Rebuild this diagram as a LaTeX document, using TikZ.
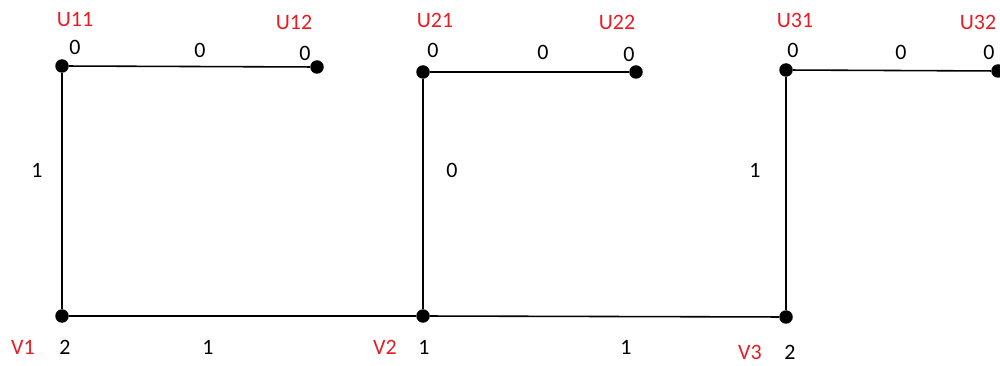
\documentclass[tikz,border=0pt]{standalone}
\usepackage{fontspec}
\setmainfont{Carlito}
\usetikzlibrary{positioning}

\definecolor{lblred}{RGB}{232,28,36}

\begin{document}
\begin{tikzpicture}[font=\fontsize{12.5}{14}\selectfont,
	pt/.style = {circle, fill=black, inner sep=0pt, minimum size=0.27cm},
	vname/.style = {text=lblred},
	wt/.style = {text=black},
	link/.style = {line width=0.9pt}]
	\useasboundingbox (0,0) rectangle (20,7.3);

	% vertices
	\node[pt] (U11) at (1.24, 5.98) {};
	\node[pt] (U12) at (6.34, 5.96) {};
	\node[pt] (U21) at (8.46, 5.86) {};
	\node[pt] (U22) at (12.72, 5.86) {};
	\node[pt] (U31) at (15.72, 5.90) {};
	\node[pt] (U32) at (19.96, 5.88) {};
	\node[pt] (V1) at (1.24, 0.98) {};
	\node[pt] (V2) at (8.46, 0.98) {};
	\node[pt] (V3) at (15.72, 0.96) {};

	% names
	\node[vname] (nU11) at (1.50, 6.90) {U11};
	\node[vname] (nU12) at (5.88, 6.86) {U12};
	\node[vname] (nU21) at (8.70, 6.90) {U21};
	\node[vname] (nU22) at (12.34, 6.86) {U22};
	\node[vname] (nU31) at (15.90, 6.90) {U31};
	\node[vname] (nU32) at (19.56, 6.86) {U32};
	\node[vname] (nV1) at (0.46, 0.36) {V1};
	\node[vname] (nV2) at (7.70, 0.36) {V2};
	\node[vname] (nV3) at (15.00, 0.26) {V3};

	% vertex values
	\node[wt] (wU11) at (1.50, 6.36) {0};
	\node[wt] (wU12) at (6.10, 6.24) {0};
	\node[wt] (wU21) at (8.66, 6.30) {0};
	\node[wt] (wU22) at (12.58, 6.22) {0};
	\node[wt] (wU31) at (15.86, 6.30) {0};
	\node[wt] (wU32) at (19.78, 6.26) {0};
	\node[wt] (wV1) at (1.30, 0.36) {2};
	\node[wt] (wV2) at (8.48, 0.36) {1};
	\node[wt] (wV3) at (15.80, 0.26) {2};

	% edge values
	\node[wt] (e1) at (4.00, 6.30) {0};
	\node[wt] (e2) at (10.86, 6.26) {0};
	\node[wt] (e3) at (18.02, 6.26) {0};
	\node[wt] (e4) at (0.74, 3.90) {1};
	\node[wt] (e5) at (9.04, 3.90) {0};
	\node[wt] (e6) at (15.10, 3.90) {1};
	\node[wt] (e7) at (4.16, 0.36) {1};
	\node[wt] (e8) at (12.52, 0.36) {1};

	\draw[link] (U11) -- (U12);
	\draw[link] (U21) -- (U22);
	\draw[link] (U31) -- (U32);
	\draw[link] (U11) -- (V1);
	\draw[link] (U21) -- (V2);
	\draw[link] (U31) -- (V3);
	\draw[link] (V1) -- (V2);
	\draw[link] (V2) -- (V3);

\end{tikzpicture}
\end{document}
